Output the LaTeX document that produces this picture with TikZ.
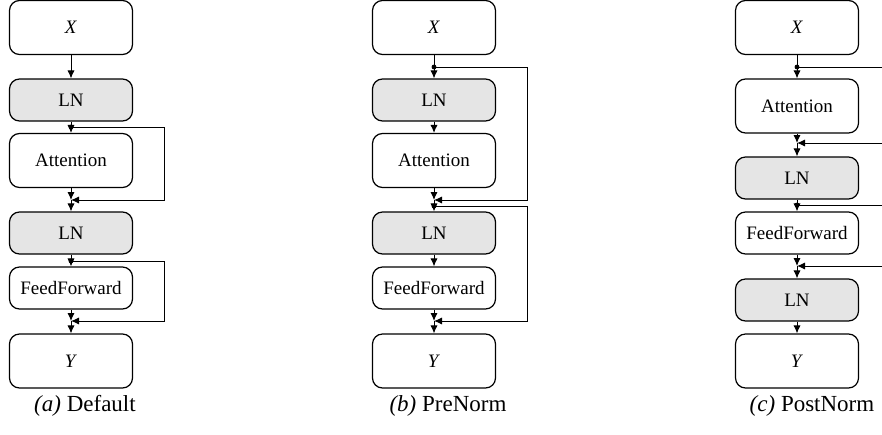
\documentclass[tikz,border=0pt]{standalone}
\usepackage{fontspec}
\setmainfont{Liberation Serif}
\usetikzlibrary{arrows.meta}
\begin{document}
\begin{tikzpicture}[x=0.5pt,y=-0.5pt,
  box/.style = {draw,rounded corners=5pt,minimum width=61.5pt,inner sep=0pt,
                line width=0.6pt,font=\fontsize{9.5}{11}\selectfont},
  tall/.style = {box,minimum height=27pt},
  short/.style = {box,minimum height=21pt},
  norm/.style = {short,fill=black!10},
  arrow/.style = {line width=0.5pt,-{Latex[length=4pt,width=3.6pt]}},
  link/.style = {line width=0.5pt},
  caption/.style = {font=\fontsize{11.5}{13}\selectfont}]
\useasboundingbox (0,0) rectangle (882,434);
\clip (0,0) rectangle (882,434);

% (a) Default
\node[tall] (xa) at (71,27.5) {\textit{X}};
\node[norm] (lna1) at (71,100) {LN};
\node[tall] (atta) at (71,160.5) {Attention};
\node[norm] (lna2) at (71,233) {LN};
\node[short] (ffa) at (71,288) {FeedForward};
\node[tall] (ya) at (71,361) {\textit{Y}};
\coordinate (ja1) at (71,127);
\coordinate (sa1) at (71,200);
\coordinate (ja2) at (71,261);
\coordinate (sa2) at (71,321);
\node[caption] (capa) at (85,406) {\textit{(a)} Default};

\draw[arrow] (xa) -- (lna1);
\draw[arrow] (lna1) -- (atta);
\filldraw (ja1) circle (1pt);
\draw[arrow] (ja1) -- ++(93,0) |- (sa1);
\draw[arrow] (atta) -- (sa1);
\draw[arrow] (sa1) -- (lna2);
\draw[arrow] (lna2) -- (ffa);
\filldraw (ja2) circle (1pt);
\draw[arrow] (ja2) -- ++(93,0) |- (sa2);
\draw[arrow] (ffa) -- (sa2);
\draw[arrow] (sa2) -- (ya);

% (b) PreNorm
\node[tall] (xb) at (434,27.5) {\textit{X}};
\node[norm] (lnb1) at (434,100) {LN};
\node[tall] (attb) at (434,160.5) {Attention};
\node[norm] (lnb2) at (434,233) {LN};
\node[short] (ffb) at (434,288) {FeedForward};
\node[tall] (yb) at (434,361) {\textit{Y}};
\coordinate (jb1) at (434,67);
\coordinate (sb1) at (434,200);
\coordinate (jb2) at (434,206);
\coordinate (sb2) at (434,321);
\node[caption] (capb) at (448,406) {\textit{(b)} PreNorm};

\draw[link] (xb) -- (jb1);
\filldraw (jb1) circle (1pt);
\draw[arrow] (jb1) -- (lnb1);
\draw[arrow] (jb1) -- ++(93,0) |- (sb1);
\draw[arrow] (lnb1) -- (attb);
\draw[arrow] (attb) -- (sb1);
\draw[arrow] (sb1) -- (lnb2);
\filldraw (jb2) circle (1pt);
\draw[arrow] (jb2) -- ++(93,0) |- (sb2);
\draw[arrow] (lnb2) -- (ffb);
\draw[arrow] (ffb) -- (sb2);
\draw[arrow] (sb2) -- (yb);

% (c) PostNorm
\node[tall] (xc) at (797,27.5) {\textit{X}};
\node[tall] (attc) at (797,106) {Attention};
\node[norm] (lnc1) at (797,178) {LN};
\node[short] (ffc) at (797,233) {FeedForward};
\node[norm] (lnc2) at (797,300) {LN};
\node[tall] (yc) at (797,361) {\textit{Y}};
\coordinate (jc1) at (797,67);
\coordinate (sc1) at (797,143);
\coordinate (jc2) at (797,205);
\coordinate (sc2) at (797,266);
\node[caption] (capc) at (812,406) {\textit{(c)} PostNorm};

\draw[link] (xc) -- (jc1);
\filldraw (jc1) circle (1pt);
\draw[arrow] (jc1) -- (attc);
\draw[arrow] (jc1) -- ++(93,0) |- (sc1);
\draw[arrow] (attc) -- (sc1);
\draw[arrow] (sc1) -- (lnc1);
\draw[arrow] (lnc1) -- (ffc);
\filldraw (jc2) circle (1pt);
\draw[arrow] (jc2) -- ++(93,0) |- (sc2);
\draw[arrow] (ffc) -- (sc2);
\draw[arrow] (sc2) -- (lnc2);
\draw[arrow] (lnc2) -- (yc);
\end{tikzpicture}
\end{document}
